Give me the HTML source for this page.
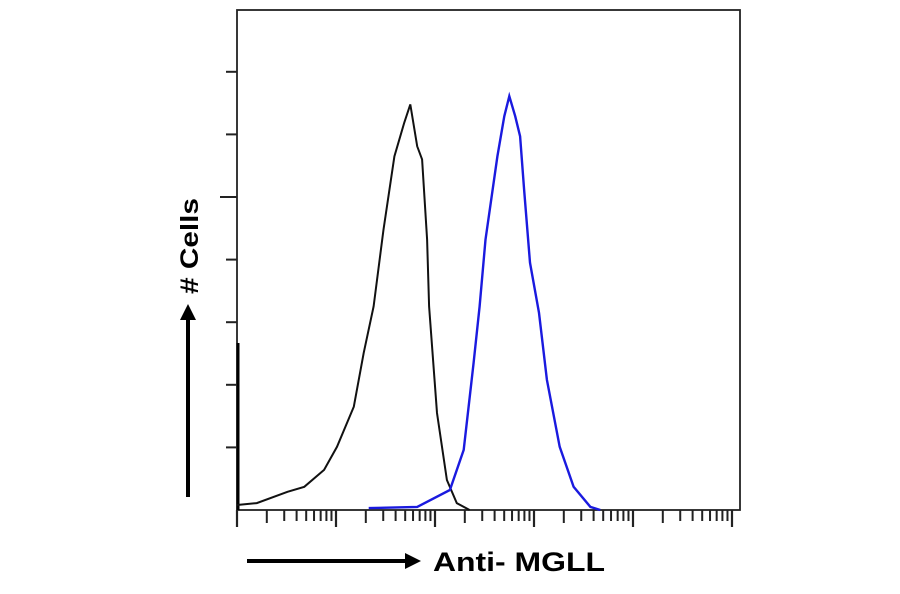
<!DOCTYPE html>
<html><head><meta charset="utf-8"><style>
html,body{margin:0;padding:0;background:#fff;}
svg{display:block;font-family:"Liberation Sans",Arial,sans-serif;}
</style></head><body>
<svg id="chart" width="900" height="594" viewBox="0 0 900 594">
<rect x="237" y="10" width="503" height="500" fill="none" stroke="#222" stroke-width="1.8"/>
<line x1="238" y1="343" x2="238" y2="510" stroke="#000" stroke-width="3"/>
<g id="yticks"></g>
<g id="xticks"></g>
<polyline id="control" fill="none" stroke="#111" stroke-width="2"/>
<polyline id="sample" fill="none" stroke="#1a1adf" stroke-width="2.4"/>
<g>
<line x1="188" y1="497" x2="188" y2="318" stroke="#000" stroke-width="4"/>
<polygon points="188,304 180,320 196,320" fill="#000"/>
<text x="0" y="0" transform="translate(198,246) rotate(-90)" text-anchor="middle" font-size="25" font-weight="bold" textLength="96" lengthAdjust="spacingAndGlyphs">#&#160;Cells</text>
</g>
<g>
<line x1="247" y1="561" x2="408" y2="561" stroke="#000" stroke-width="4"/>
<polygon points="421,561 405,553 405,569" fill="#000"/>
<text x="433" y="571" font-size="27" font-weight="bold" textLength="172" lengthAdjust="spacingAndGlyphs">Anti- MGLL</text>
</g>
</svg>
<script>
const controlX=[0,0.20,0.51,0.68,0.88,1.01,1.18,1.28,1.38,1.48,1.59,1.69,1.75,1.82,1.87,1.92,1.94,2.02,2.12,2.22,2.35];
const controlY=[0.08,0.11,0.29,0.37,0.64,1.01,1.65,2.51,3.25,4.48,5.65,6.19,6.48,5.81,5.6,4.32,3.25,1.55,0.48,0.11,0];
const sampleX=[1.33,1.82,2.15,2.29,2.39,2.45,2.51,2.63,2.70,2.75,2.81,2.86,2.90,2.96,3.05,3.13,3.26,3.40,3.57,3.67];
const sampleY=[0.03,0.05,0.32,0.96,2.35,3.25,4.32,5.65,6.29,6.61,6.29,5.97,5.12,3.95,3.15,2.08,1.01,0.37,0.05,0];
const decades=[0,1,2,3,4,5];
const yTickValues=[1,2,3,4,5,6,7];
const X0=237,DEC=99,Y0=510,YU=62.6;
const sx=d=>X0+d*DEC, sy=v=>Y0-v*YU;
const NS="http://www.w3.org/2000/svg";
function pts(xs,ys){return xs.map((x,i)=>sx(x).toFixed(1)+","+sy(ys[i]).toFixed(1)).join(" ");}
document.getElementById('control').setAttribute('points',pts(controlX,controlY));
document.getElementById('sample').setAttribute('points',pts(sampleX,sampleY));
const yt=document.getElementById('yticks');
yTickValues.forEach(v=>{
 const l=document.createElementNS(NS,'line');
 
 
 l.setAttribute('x1',v===5?220:226);l.setAttribute('x2',237);
 l.setAttribute('y1',sy(v));l.setAttribute('y2',sy(v));
 l.setAttribute('stroke','#222');l.setAttribute('stroke-width','2');
 yt.appendChild(l);
});
const xt=document.getElementById('xticks');
decades.forEach(d=>{
 const mk=(x,len,w)=>{
  const l=document.createElementNS(NS,'line');
  
  
  l.setAttribute('x1',x);l.setAttribute('x2',x);
  l.setAttribute('y1',Y0);l.setAttribute('y2',Y0+len);
  l.setAttribute('stroke','#222');l.setAttribute('stroke-width',w);
  xt.appendChild(l);
 };
 mk(sx(d),17,2.2);
 if(d<5){for(let m=2;m<=9;m++){mk(sx(d+Math.log10(m)),m===2?13:11,2);}}
});
</script>
</body></html>
